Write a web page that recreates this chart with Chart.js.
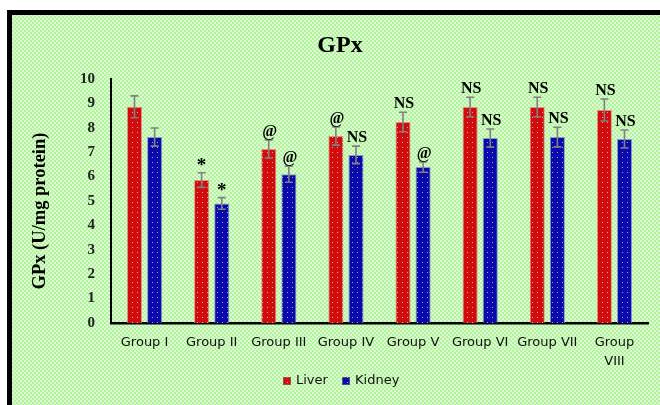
<!DOCTYPE html>
<html>
<head>
<meta charset="utf-8">
<script src="https://cdn.jsdelivr.net/npm/chart.js@4/dist/chart.umd.min.js"></script>
<style>
  html, body { margin: 0; padding: 0; background: #ffffff; }
  #wrap { width: 660px; height: 405px; }
</style>
</head>
<body>
<div id="wrap"><canvas id="c" width="660" height="405"></canvas></div>
<script>
// GPx activity (U/mg protein) in liver and kidney, mean ± SE per group
const categories = ['Group I', 'Group II', 'Group III', 'Group IV', 'Group V', 'Group VI', 'Group VII', ['Group', 'VIII']];
const liver      = [8.86, 5.86, 7.13, 7.66, 8.24, 8.85, 8.85, 8.73];
const liverErr   = [0.45, 0.30, 0.37, 0.37, 0.40, 0.40, 0.40, 0.45];
const kidney     = [7.62, 4.90, 6.10, 6.89, 6.39, 7.58, 7.62, 7.54];
const kidneyErr  = [0.37, 0.24, 0.33, 0.36, 0.21, 0.37, 0.40, 0.37];
const liverMarks  = ['', '*', '@', '@', 'NS', 'NS', 'NS', 'NS'];
const kidneyMarks = ['', '*', '@', 'NS', '@', 'NS', 'NS', 'NS'];
const yTicks = [0, 1, 2, 3, 4, 5, 6, 7, 8, 9, 10];

const SERIF = '"Liberation Serif", "Times New Roman", serif';
const SANS = '"DejaVu Sans", sans-serif';

// small dotted textures for the bars and the plot background
function dotPattern(base, dot) {
  const t = document.createElement('canvas');
  t.width = 5; t.height = 5;
  const g = t.getContext('2d');
  g.fillStyle = base; g.fillRect(0, 0, 5, 5);
  g.fillStyle = dot; g.fillRect(2, 2, 1, 1);
  return g.createPattern(t, 'repeat');
}
function checkPattern() {
  const t = document.createElement('canvas');
  t.width = 4; t.height = 4;
  const g = t.getContext('2d');
  g.fillStyle = '#b4f1a0'; g.fillRect(0, 0, 4, 4);
  g.fillStyle = '#d9fbcd'; g.fillRect(0, 0, 2, 2); g.fillRect(2, 2, 2, 2);
  return g.createPattern(t, 'repeat');
}
const ctx0 = document.getElementById('c').getContext('2d');
const redFill = dotPattern('#d00c0c', '#f7a0a0');
const blueFill = dotPattern('#0a0aac', '#9aa6f0');
const bgFill = checkPattern();

const framePlugin = {
  id: 'frame',
  beforeDraw(chart) {
    const c = chart.ctx;
    c.save();
    c.fillStyle = '#ffffff';
    c.fillRect(0, 0, chart.width, chart.height);
    c.fillStyle = bgFill;
    c.fillRect(12, 15, chart.width - 12, chart.height - 15);
    c.fillStyle = '#000000';
    c.fillRect(7, 10, chart.width - 7, 5);
    c.fillRect(7, 10, 5, chart.height - 10);
    c.restore();
  }
};

const errorPlugin = {
  id: 'errors',
  afterDatasetsDraw(chart) {
    const c = chart.ctx;
    const y = chart.scales.y;
    const sets = [[liver, liverErr, liverMarks], [kidney, kidneyErr, kidneyMarks]];
    c.save();
    sets.forEach((s, di) => {
      const meta = chart.getDatasetMeta(di);
      meta.data.forEach((bar, i) => {
        const x = bar.x;
        const top = y.getPixelForValue(s[0][i] + s[1][i]);
        const bot = y.getPixelForValue(s[0][i] - s[1][i]);
        c.strokeStyle = '#808080';
        c.lineWidth = 1.6;
        c.beginPath();
        c.moveTo(x, top); c.lineTo(x, bot);
        c.moveTo(x - 4, top); c.lineTo(x + 4, top);
        c.moveTo(x - 4, bot); c.lineTo(x + 4, bot);
        c.stroke();
        const m = s[2][i];
        if (m) {
          c.fillStyle = '#000000';
          c.textAlign = 'center';
          c.textBaseline = 'alphabetic';
          if (m === '*') {
            c.font = 'bold 19px ' + SERIF;
            c.fillText(m, x, top - 2);
          } else {
            c.font = 'bold 16px ' + SERIF;
            c.fillText(m, x + 1, top - 4);
          }
        }
      });
    });
    c.restore();
  }
};

const textPlugin = {
  id: 'texts',
  afterDraw(chart) {
    const c = chart.ctx;
    c.save();
    // title
    c.fillStyle = '#000000';
    c.font = 'bold 24px ' + SERIF;
    c.textAlign = 'center';
    c.textBaseline = 'alphabetic';
    c.fillText('GPx', 340, 52);
    // y axis title
    c.translate(40, 211);
    c.rotate(-Math.PI / 2);
    c.font = 'bold 18.5px ' + SERIF;
    c.textBaseline = 'middle';
    c.fillText('GPx (U/mg protein)', 0, 0);
    c.restore();
    // legend
    c.save();
    c.font = '13px ' + SANS;
    c.textBaseline = 'middle';
    c.textAlign = 'left';
    const items = [['Liver', redFill, 283], ['Kidney', blueFill, 342]];
    items.forEach(([label, fill, lx]) => {
      c.fillStyle = fill;
      c.fillRect(lx, 377, 8, 8);
      c.strokeStyle = 'rgba(120,120,120,0.6)';
      c.lineWidth = 1;
      c.strokeRect(lx + 0.5, 377.5, 7, 7);
      c.fillStyle = '#111111';
      c.fillText(label, lx + 13, 381);
    });
    c.restore();
  }
};

new Chart(ctx0, {
  type: 'bar',
  data: {
    labels: categories,
    datasets: [
      { label: 'Liver', data: liver, backgroundColor: redFill, borderColor: 'rgba(235,120,120,0.8)', borderWidth: 1,
        categoryPercentage: 0.6, barPercentage: 0.75 },
      { label: 'Kidney', data: kidney, backgroundColor: blueFill, borderColor: 'rgba(120,130,200,0.8)', borderWidth: 1,
        categoryPercentage: 0.6, barPercentage: 0.75 }
    ]
  },
  options: {
    responsive: false,
    animation: false,
    devicePixelRatio: 1,
    layout: { padding: { left: 0, right: 12, top: 79, bottom: 0 } },
    plugins: {
      legend: { display: false },
      title: { display: false },
      tooltip: { enabled: false }
    },
    scales: {
      x: {
        offset: true,
        grid: { display: false, drawTicks: false },
        border: { display: true, color: '#000000', width: 2.5 },
        ticks: {
          color: '#111111', padding: 10, maxRotation: 0, autoSkip: false,
          font: { family: SANS, size: 13, lineHeight: 1.45 }
        },
        afterFit(scale) { scale.height = 82; }
      },
      y: {
        min: 0, max: 10,
        afterBuildTicks(scale) { scale.ticks = yTicks.map(v => ({ value: v })); },
        grid: { display: false, drawTicks: false },
        border: { display: true, color: '#000000', width: 2 },
        ticks: {
          color: '#222222', padding: 16,
          font: { family: SERIF, size: 15, weight: 'bold' }
        },
        afterFit(scale) { scale.width = 111; }
      }
    }
  },
  plugins: [framePlugin, errorPlugin, textPlugin]
});
</script>
</body>
</html>
